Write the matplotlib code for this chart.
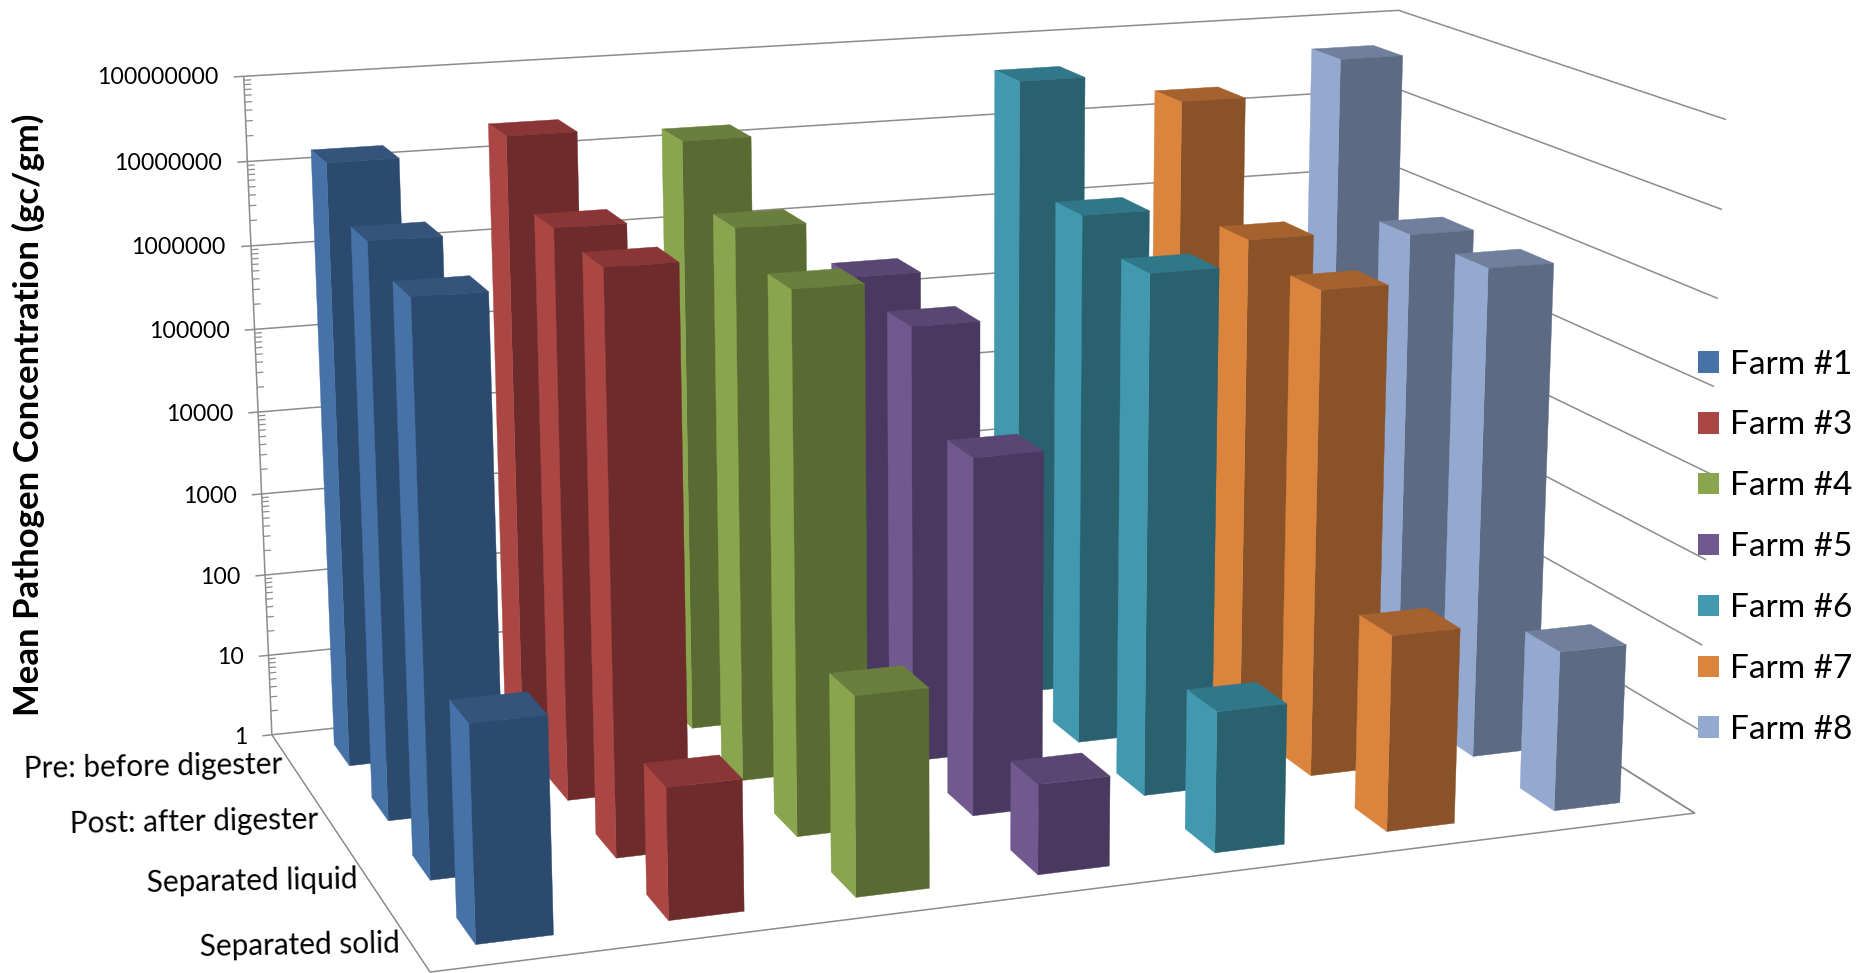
import numpy as np
import matplotlib
matplotlib.use("Agg")
import matplotlib.pyplot as plt
from matplotlib.patches import Patch
from matplotlib.colors import to_rgb

# ---------- data ----------
farms = ["Farm #1", "Farm #3", "Farm #4", "Farm #5", "Farm #6", "Farm #7", "Farm #8"]
stages = ["Separated solid", "Separated liquid", "Post: after digester", "Pre: before digester"]
pre    = [1.6e7, 2.4e7, 1.55e7, 2.6e5, 4.5e7, 1.9e7, 4.8e7]
post   = [5e6, 5e6, 3.6e6, 1.8e5, 2.6e6, 9.5e5, 7.8e5]
liquid = [3.2e6, 4.7e6, 1.9e6, 1.6e4, 1.4e6, 6.3e5, 8e5]
solid  = [270, 31, 190, 11, 44, 200, 78]
ticks = [1, 10, 100, 1000, 10000, 100000, 1000000, 10000000, 100000000]
left_colors = ["#4672A8", "#AA4643", "#89A54E", "#71588F", "#4198AF", "#DB843D", "#93A9CF"]
front_colors = ["#2C4A6E", "#6E2B2B", "#596B33", "#49385F", "#29616F", "#8A5228", "#5D6A83"]
top_colors = ["#34547C", "#8A3636", "#6A7F3E", "#5A4672", "#31778A", "#A5622F", "#6F7F9C"]
rows = [solid, liquid, post, pre]

# ---------- camera: frame corners/edges of the reference (data x, y, log z -> pixel) ----------
calib_xyz = [(0,4,8),(0,4,7),(0,4,6),(0,4,5),(0,4,4),(0,4,1),(0,4,0),(7,4,8),
             (7,0,8),(7,0,7),(7,0,6),(7,0,5),(7,0,4),(7,0,3),(7,0,2),(7,0,0),(0,0,0)]
calib_px = [(244.3,76),(247.7,161.7),(250.7,246),(254,329.3),(257.7,412.3),(268,655),(272.7,735),(1398.5,10.3),
            (1726,119.3),(1722,209.3),(1718.5,299),(1714.4,387),(1708,473),(1706,560),(1703,645),(1695,813),(430,972)]

def fit_camera(xyz, px):
    rows_ = []
    for (X, Y, Z), (u, v) in zip(xyz, px):
        u, v = u / 1000.0, v / 1000.0
        rows_.append([X, Y, Z, 1, 0, 0, 0, 0, -u*X, -u*Y, -u*Z, -u])
        rows_.append([0, 0, 0, 0, X, Y, Z, 1, -v*X, -v*Y, -v*Z, -v])
    _, _, vt = np.linalg.svd(np.array(rows_, float))
    P = vt[-1].reshape(3, 4)
    if P[2, 3] < 0:
        P = -P
    return np.diag([1000.0, 1000.0, 1.0]) @ P

P_px = fit_camera(calib_xyz, calib_px)
w_min = min(P_px[2] @ np.array([*p, 1.0]) for p in calib_xyz)

def project(xs, ys, zs):
    q = P_px @ np.vstack([xs, ys, zs, np.ones(len(xs))])
    return q[0] / q[2], q[1] / q[2]

W, H = 1860, 973
plt.rcParams["font.family"] = ["Lato", "DejaVu Sans"]
fig = plt.figure(figsize=(W / 100, H / 100), dpi=100, facecolor="white")

# 2D layer (pixel coordinates) holding the chart frame and its labels, under the bars
frame = fig.add_axes([0, 0, 1, 1], zorder=-1)
frame.set_xlim(0, W)
frame.set_ylim(H, 0)
frame.axis("off")

ax = fig.add_axes([0, (H - W) / 2 / H, 1, W / H], projection="3d", zorder=1)
ax.set_axis_off()
ax.patch.set_visible(False)
ax.computed_zorder = False

def get_proj():
    to_disp = np.array([[1, 0, 0], [0, -1, H], [0, 0, 1.0]])
    inv = ax.transData.inverted().get_affine().get_matrix()
    P = inv @ to_disp @ P_px
    return np.vstack([P[0], P[1], [0, 0, 0, 0.5 * w_min], P[2]])
ax.get_proj = get_proj

# ---------- frame ----------
GRID = "#8c8c8c"
zt = np.log10(ticks)
nx, ny = len(farms), len(stages)

def seg(xs, ys, zs, lw=1.1):
    px, py = project(xs, ys, zs)
    frame.plot(px, py, color=GRID, lw=lw, solid_capstyle="butt")

for z in zt:
    seg([0, nx, nx], [ny, ny, 0], [z, z, z])
    seg([-0.055, 0], [ny, ny], [z, z])
seg([0, 0], [ny, ny], [zt[0], zt[-1]])
seg([0, 0, nx, nx], [ny, 0, 0, ny], [0, 0, 0, 0])
for z in zt[:-1]:
    for k in range(2, 10):
        zm = z + np.log10(k)
        seg([0, 0.04], [ny, ny], [zm, zm], lw=0.9)

for t, z in zip(ticks, zt):
    px, py = project([-0.14], [ny], [z])
    frame.text(px[0], py[0], str(t), ha="right", va="center", fontsize=16.7, color="black")
for j, s in enumerate(stages):
    px, py = project([-0.05], [j + 0.44], [0])
    frame.text(px[0], py[0], s, ha="right", va="center", fontsize=21.4, color="black",
               rotation=1, rotation_mode="anchor")

# ---------- bars ----------
BW, BD = 0.40, 0.41
NONE = (0, 0, 0, 0)
for j in range(ny - 1, -1, -1):
    for i in range(nx - 1, -1, -1):
        h = np.log10(rows[j][i])
        # face order used by bar3d: -z, +z, -y, +y, -x, +x
        cols = [NONE, to_rgb(top_colors[i]) + (1,), to_rgb(front_colors[i]) + (1,), NONE,
                to_rgb(left_colors[i]) + (1,), NONE]
        c = ax.bar3d(i + (1 - BW) / 2, j + (1 - BD) / 2, 0, BW, BD, h, color=cols,
                     edgecolor=cols, linewidth=0.3, shade=False)
        c.set_zorder(10 + (ny - j) * 20 + (nx - i))
        c.set_clip_on(False)

# ---------- labels ----------
fig.text(28 / W, 1 - 415 / H, "Mean Pathogen Concentration (gc/gm)", rotation=90, ha="center", va="center",
         fontsize=25, fontweight="bold", color="black")
handles = [Patch(facecolor=c, edgecolor="none", label=f) for c, f in zip(left_colors, farms)]
FS = 24
fig.legend(handles=handles, loc="upper left", bbox_to_anchor=(1698 / W, 1 - 349.6 / H), frameon=False,
           borderaxespad=0, borderpad=0, fontsize=FS, handlelength=15.1 / FS, handleheight=0.62,
           handletextpad=7.9 / FS, labelspacing=0.927)

fig.savefig("out.png", dpi=100, facecolor="white")
